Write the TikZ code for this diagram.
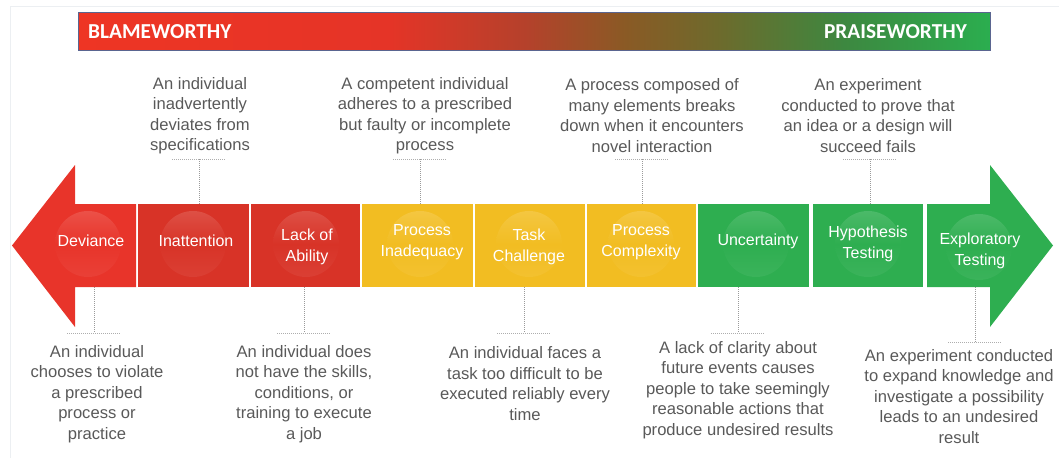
\documentclass[tikz,border=0pt]{standalone}
\usepackage{fontspec}
\setmainfont{Liberation Sans}
\newfontfamily\barfont{Carlito}
\definecolor{cred}{HTML}{E8342A}
\definecolor{cred2}{HTML}{D83327}
\definecolor{cyel}{HTML}{F2BD22}
\definecolor{cgrn}{HTML}{2EAE50}
\definecolor{ctext}{HTML}{595959}
\definecolor{cconn}{HTML}{9A9A9A}
\definecolor{cframe}{HTML}{ECEFF2}
\definecolor{cbord}{HTML}{5A6590}
\definecolor{ba}{HTML}{EE3524}
\definecolor{bb}{HTML}{E53427}
\definecolor{bc}{HTML}{B5412B}
\definecolor{bd}{HTML}{8A5A25}
\definecolor{be}{HTML}{6E6A2C}
\definecolor{bf}{HTML}{3D8840}
\definecolor{bg}{HTML}{2BAE4F}
\pgfdeclarehorizontalshading{barshade}{100bp}{color(0bp)=(ba); color(25bp)=(ba); color(42bp)=(bb); color(49.5bp)=(bc); color(55bp)=(bd); color(60bp)=(be); color(67bp)=(bf); color(75bp)=(bg); color(100bp)=(bg)}
\tikzset{
  box/.style={draw=none, minimum height=83pt, inner sep=0pt},
  lbl/.style={text=white, align=center, inner sep=0pt, font=\fontsize{16}{21}\selectfont},
  desc/.style={text=ctext, align=center, inner sep=0pt, font=\fontsize{16.6}{20.5}\selectfont},
  conn/.style={draw=cconn, line width=0.8pt, dash pattern=on 1pt off 1pt},
  hconn/.style={draw=cconn!80, line width=0.7pt, dash pattern=on 1pt off 1pt},
  bartxt/.style={text=white, inner sep=0pt, font=\barfont\bfseries\fontsize{21.3}{25}\selectfont},
}
\newcommand{\glow}[3]{%
  \shade[top color=#3!86!white, bottom color=#3!94!white, middle color=#3] (#1,#2) circle (33pt);}
\begin{document}
\begin{tikzpicture}[x=1pt, y=-1pt]
\useasboundingbox (0,0) rectangle (1059,458);
% faint frame
\draw[cframe, line width=0.8pt] (10,458) -- (10,6) -- (1059,6);
% top bar
\shade[shading=barshade, draw=cbord, line width=0.8pt] (78,12) rectangle (990,50);
\node[bartxt, anchor=west] (blame) at (88,31.5) {BLAMEWORTHY};
\node[bartxt, anchor=east] (praise) at (967,31.5) {PRAISEWORTHY};

% boxes
\node[box, fill=cred2, minimum width=111pt] (inat) at (193.5,245.5) {};
\node[box, fill=cred2, minimum width=109pt] (lack) at (305.5,245.5) {};
\node[box, fill=cyel, minimum width=111pt] (pinad) at (417.5,245.5) {};
\node[box, fill=cyel, minimum width=110pt] (task) at (530,245.5) {};
\node[box, fill=cyel, minimum width=109pt] (pcomp) at (641.5,245.5) {};
\node[box, fill=cgrn, minimum width=111pt] (unc) at (753.5,245.5) {};
\node[box, fill=cgrn, minimum width=110pt] (hyp) at (868,245.5) {};

% connector coordinates
\coordinate (t1) at (199,159);
\coordinate (t2) at (420,159);
\coordinate (t3) at (642,159);
\coordinate (t4) at (870,159);
\coordinate (b1) at (94,333);
\coordinate (b2) at (304,333);
\coordinate (b3) at (524,333);
\coordinate (b4) at (738,333);
\coordinate (b5) at (975,342);
\coordinate (devS) at (94,287);
\coordinate (expS) at (975,287);

% connectors
\draw[conn] (t1) -- (t1 |- inat.north);
\draw[conn] (t2) -- (t2 |- pinad.north);
\draw[conn] (t3) -- (t3 |- pcomp.north);
\draw[conn] (t4) -- (t4 |- hyp.north);
\draw[conn] (devS) -- (b1);
\draw[conn] (b2 |- lack.south) -- (b2);
\draw[conn] (b3 |- task.south) -- (b3);
\draw[conn] (b4 |- unc.south) -- (b4);
\draw[conn] (expS) -- (b5);
\foreach \c in {t1,t2,t3,t4,b1,b2,b3,b4,b5}
  \draw[hconn] ([xshift=-27pt]\c) -- ([xshift=27pt]\c);

% arrows
\fill[cred] (12,245.5) -- (75,165) -- (75,204) -- (136,204) -- (136,287) -- (75,287) -- (75,327) -- cycle;
\fill[cgrn] (927,204) -- (990,204) -- (990,165) -- (1053,245.5) -- (990,327) -- (990,287) -- (927,287) -- cycle;

% glows
\glow{88}{244}{cred}
\glow{193}{244}{cred2}
\glow{306}{244}{cred2}
\glow{420}{244}{cyel}
\glow{529}{244}{cyel}
\glow{641}{244}{cyel}
\glow{756}{244}{cgrn}
\glow{868}{244}{cgrn}
\glow{979}{247}{cgrn}

% labels
\node[lbl] (ldev) at (91,241) {Deviance};
\node[lbl] (linat) at (196,241) {Inattention};
\node[lbl] (llack) at (307,246.5) {Lack of\\Ability};
\node[lbl] (lpinad) at (422,242.5) {Process\\Inadequacy};
\node[lbl] (ltask) at (529,246.5) {Task\\Challenge};
\node[lbl] (lpcomp) at (641,242.5) {Process\\Complexity};
\node[lbl] (lunc) at (758,241) {Uncertainty};
\node[lbl] (lhyp) at (868,244) {Hypothesis\\Testing};
\node[lbl] (lexp) at (980,251) {Exploratory\\Testing};

% descriptions
\node[desc] (dinat) at (200,115.5) {An individual\\inadvertently\\deviates from\\specifications};
\node[desc] (dpinad) at (425,115.5) {A competent individual\\adheres to a prescribed\\but faulty or incomplete\\process};
\node[desc] (dpcomp) at (652,115.5) {A process composed of\\many elements breaks\\down when it encounters\\novel interaction};
\node[desc] (dhyp) at (868,115.5) {An experiment\\conducted to prove that\\an idea or a design will\\succeed fails};
\node[desc] (ddev) at (97,394) {An individual\\chooses to violate\\a prescribed\\process or\\practice};
\node[desc] (dlack) at (304,394) {An individual does\\not have the skills,\\conditions, or\\training to execute\\a job};
\node[desc] (dtask) at (525,383.5) {An individual faces a\\task too difficult to be\\executed reliably every\\time};
\node[desc] (dunc) at (738,390) {A lack of clarity about\\future events causes\\people to take seemingly\\reasonable actions that\\produce undesired results};
\node[desc] (dexp) at (959,396.5) {An experiment conducted\\to expand knowledge and\\investigate a possibility\\leads to an undesired\\result};
\end{tikzpicture}
\end{document}
